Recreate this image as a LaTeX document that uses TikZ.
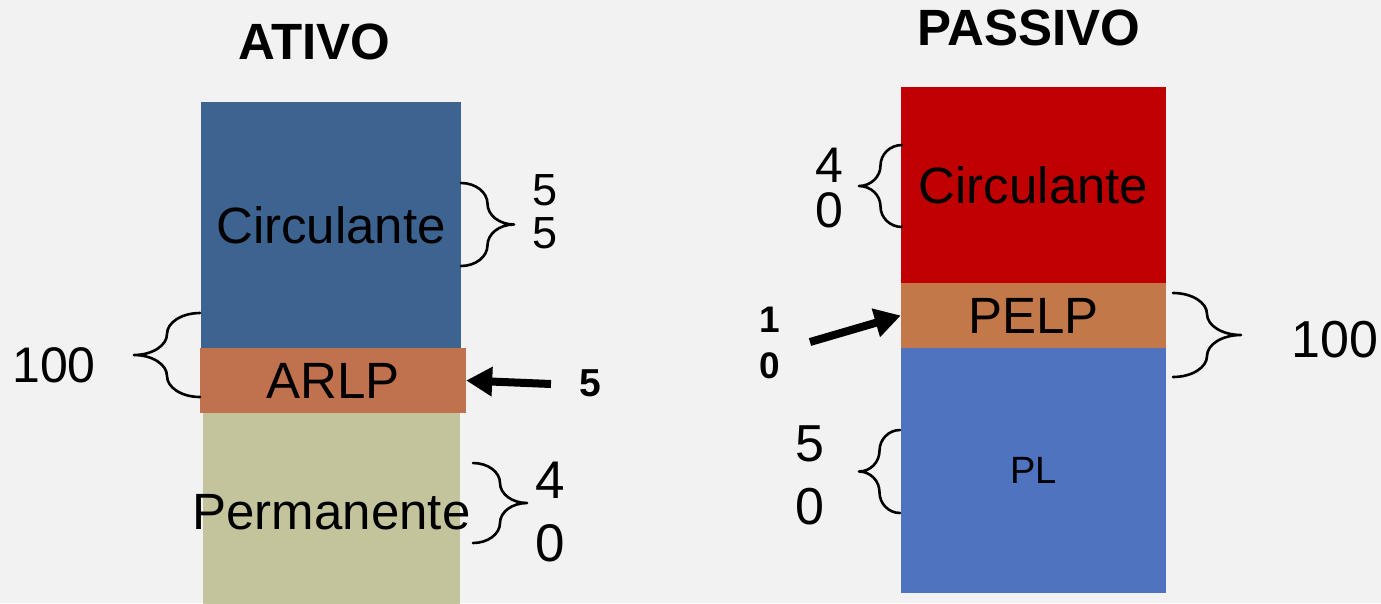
\documentclass[tikz,border=0pt]{standalone}
\usepackage{fontspec}
\setmainfont{Liberation Sans}
\usetikzlibrary{arrows.meta}
\definecolor{fundo}{HTML}{F2F2F2}
\definecolor{azulescuro}{HTML}{3D6390}
\definecolor{laranja}{HTML}{C0714D}
\definecolor{caqui}{HTML}{C3C49C}
\definecolor{vermelho}{HTML}{C00000}
\definecolor{azul}{HTML}{4F73BF}
\tikzset{
  bloco/.style={inner sep=0pt, font=\fontsize{51}{61}\selectfont},
  titulo/.style={inner sep=0pt, font=\bfseries\fontsize{51}{61}\selectfont},
  valor/.style={inner sep=0pt, align=center},
  seta/.style={line width=8pt, line cap=butt, -{Triangle[length=26pt,width=28pt]}},
  chave/.pic={\draw[line width=2.6pt] (0,0) .. controls (0.276,0) and (0.5,0.112) .. (0.5,0.25)
      .. controls (0.5,0.388) and (0.724,0.5) .. (1,0.5)
      .. controls (0.724,0.5) and (0.5,0.612) .. (0.5,0.75)
      .. controls (0.5,0.888) and (0.276,1) .. (0,1);}
}
\begin{document}
\begin{tikzpicture}[x=1pt,y=-1pt,line join=round,line cap=round]
    \fill[fundo] (0,0) rectangle (1381,603);
    \useasboundingbox (0,0) rectangle (1381,603);
    % Ativo
    \node[titulo] (ativo) at (314.5,41.5) {ATIVO};
    \node[bloco, fill=azulescuro, minimum width=260pt, minimum height=246pt] (acirc) at (331,225) {Circulante};
    \node[bloco, fill=caqui, minimum width=257pt, minimum height=198pt] (perm) at (331.5,512) {\makebox[0pt]{Permanente}};
    \node[bloco, fill=laranja, minimum width=266pt, minimum height=65pt] (arlp) at (333,380.5) {ARLP};
    \pic[xscale=-66, yscale=84] at (200,313) {chave};
    \pic[xscale=53, yscale=83] at (461,183) {chave};
    \pic[xscale=54, yscale=80] at (473,463) {chave};
    \node[valor, font=\fontsize{50}{60}\selectfont] (cem1) at (54,365) {100};
    \node[valor, font=\fontsize{45}{43}\selectfont] (v55) at (545,212) {5\\5};
    \node[valor, font=\fontsize{53}{63}\selectfont] (v40a) at (550,512) {4\\0};
    \node[valor, font=\bfseries\fontsize{39}{47}\selectfont] (v5) at (590,383) {5};
    \coordinate (t5) at (551,384);
    \draw[seta] (t5) -- (arlp.east);
    % Passivo
    \node[titulo] (passivo) at (1029,28) {PASSIVO};
    \node[bloco, fill=vermelho, minimum width=265pt, minimum height=196pt] (pcirc) at (1033.5,185) {Circulante};
    \node[bloco, fill=laranja!95!yellow, minimum width=265pt, minimum height=65pt] (pelp) at (1033.5,315.5) {PELP};
    \node[bloco, fill=azul, minimum width=265pt, minimum height=245pt, font=\fontsize{38}{46}\selectfont] (pl) at (1033.5,470.5) {PL};
    \pic[xscale=-43, yscale=82] at (902,145) {chave};
    \pic[xscale=68, yscale=84] at (1173,293) {chave};
    \pic[xscale=-41, yscale=83] at (900,430) {chave};
    \node[valor, font=\fontsize{50}{45}\selectfont] (v40b) at (829,188) {4\\0};
    \node[valor, font=\fontsize{52}{63}\selectfont] (v50) at (810,475) {5\\0};
    \node[valor, font=\bfseries\fontsize{37}{46}\selectfont] (v10) at (770,343) {1\\0};
    \node[valor, font=\fontsize{52}{62}\selectfont] (cem2) at (1335,340) {100};
    \coordinate (t10) at (810,342);
    \draw[seta] (t10) -- (pelp.west);
\end{tikzpicture}
\end{document}
